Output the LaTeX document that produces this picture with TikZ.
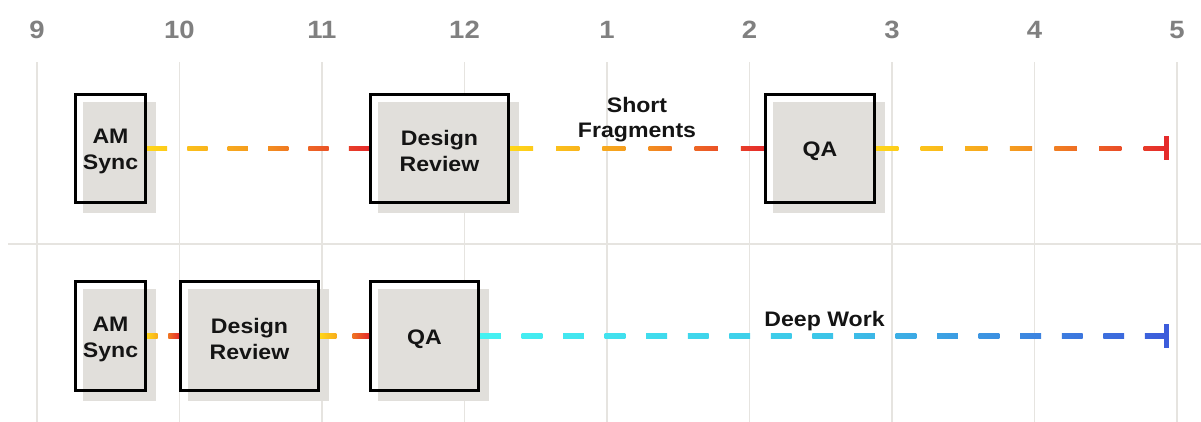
\documentclass[tikz,border=0pt]{standalone}
\usepackage{fontspec}
\setmainfont{Liberation Sans}[FakeStretch=1.1]
\usetikzlibrary{calc}

\definecolor{gridgray}{HTML}{E6E4E0}
\definecolor{boxgray}{HTML}{E1DFDB}
\definecolor{hourgray}{HTML}{808080}
\definecolor{ink}{HTML}{141414}
\definecolor{warmA}{HTML}{FFD619}
\definecolor{warmB}{HTML}{F4981F}
\definecolor{warmC}{HTML}{E52A2B}
\definecolor{coolA}{HTML}{45F2F2}
\definecolor{coolB}{HTML}{3CC6E8}
\definecolor{coolC}{HTML}{3C5CDB}

% \rampcolor{name}{t}{A}{B}{C}: three-stop colour ramp A -> B -> C at t in [0,1]
\newcommand\rampcolor[5]{%
  \ifdim #2pt<0.5pt
    \pgfmathsetmacro\rampmix{200*#2}%
    \colorlet{#1}{#4!\rampmix!#3}%
  \else
    \pgfmathsetmacro\rampmix{200*(#2-0.5)}%
    \colorlet{#1}{#5!\rampmix!#4}%
  \fi}

% \dashrun{from}{to}{number of dashes}{ramp prefix}: dashed gradient connector
\newcommand\dashrun[4]{%
  \pgfmathtruncatemacro\dashlast{#3-1}%
  \pgfmathsetmacro\dashunit{1/(2*#3-1)}%
  \foreach \k in {0,...,\dashlast}{%
    \pgfmathsetmacro\ta{2*\k*\dashunit}%
    \pgfmathsetmacro\tb{(2*\k+1)*\dashunit}%
    \rampcolor{dashL}{\ta}{#4A}{#4B}{#4C}%
    \rampcolor{dashR}{\tb}{#4A}{#4B}{#4C}%
    \shade[left color=dashL, right color=dashR]
      ($(#1)!\ta!(#2)+(0,-2.4)$) rectangle ($(#1)!\tb!(#2)+(0,2.4)$);
  }}

\tikzset{
  gridline/.style={draw=gridgray, line width=1.3pt},
  hour/.style={text=hourgray, font=\bfseries\fontsize{25}{30}\selectfont, inner sep=0pt},
  slot/.style={draw=black, line width=3pt, inner sep=0pt,
    preaction={fill=white},
    preaction={fill=boxgray, draw=boxgray, line width=3pt,
               transform canvas={shift={(9,9)}}}},
  slottext/.style={text=ink, align=center, inner sep=0pt,
    font=\bfseries\fontsize{21}{26}\selectfont},
  note/.style={text=ink, align=center, inner sep=0pt,
    font=\bfseries\fontsize{21}{25}\selectfont},
  endbar/.style={line width=5pt},
}

\begin{document}
\begin{tikzpicture}[x=1pt, y=-1pt]
  \useasboundingbox (0,0) rectangle (1201,422);

  % hour grid and labels
  \foreach \h [count=\i from 0] in {9,10,11,12,1,2,3,4,5} {
    \draw[gridline] (37+142.5*\i, 62) -- (37+142.5*\i, 422);
    \node[hour, anchor=base] (hr\h) at (37+142.5*\i, 38.5) {\h};
  }
  \draw[gridline] (8,244) -- (1201,244);

  % upper schedule
  \node[slot, minimum width=70pt, minimum height=108pt] (am1) at (110.5,148.5) {};
  \node[slot, minimum width=138pt, minimum height=108pt] (dr1) at (439.5,148.5) {};
  \node[slot, minimum width=109pt, minimum height=108pt] (qa1) at (820,148.5) {};
  \coordinate (end1) at (1166,148.5);
  \node[slottext] (am1t) at ($(am1)+(0,3)$) {AM\\Sync};
  \node[slottext] (dr1t) at ($(dr1)+(0,2.5)$) {Design\\Review};
  \node[slottext] (qa1t) at ($(qa1)+(0,3)$) {QA};

  % lower schedule
  \node[slot, minimum width=70pt, minimum height=109pt] (am2) at (110.5,336) {};
  \node[slot, minimum width=138pt, minimum height=109pt] (dr2) at (249.5,336) {};
  \node[slot, minimum width=108pt, minimum height=109pt] (qa2) at (424.5,336) {};
  \coordinate (end2) at (1166,336);
  \node[slottext] (am2t) at ($(am2)+(0,3)$) {AM\\Sync};
  \node[slottext] (dr2t) at ($(dr2)+(0,2.5)$) {Design\\Review};
  \node[slottext] (qa2t) at ($(qa2)+(0,3)$) {QA};

  % gradient connectors
  \dashrun{am1.east}{dr1.west}{6}{warm}
  \dashrun{dr1.east}{qa1.west}{6}{warm}
  \dashrun{qa1.east}{end1}{7}{warm}
  \dashrun{am2.east}{dr2.west}{2}{warm}
  \dashrun{dr2.east}{qa2.west}{2}{warm}
  \dashrun{qa2.east}{end2}{17}{cool}

  % end stops
  \draw[endbar, warmC] ($(end1)+(0,-12)$) -- ($(end1)+(0,12)$);
  \draw[endbar, coolC] ($(end2)+(0,-12)$) -- ($(end2)+(0,12)$);

  % segment labels
  \node[note] (frag) at (637,120) {Short\\Fragments};
  \node[note, anchor=base] (deep) at (824.5,326) {Deep Work};
\end{tikzpicture}
\end{document}
